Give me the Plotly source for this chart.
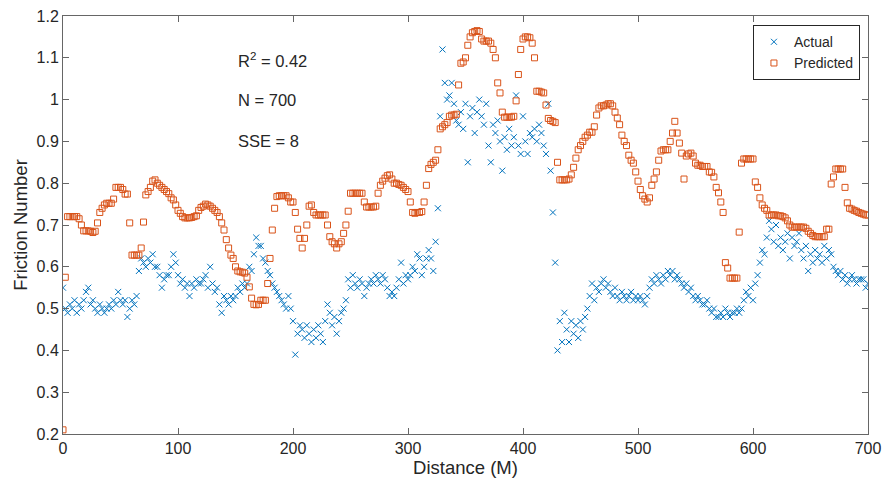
import plotly.graph_objects as go

distance = list(range(0, 701, 2))

predicted = [
    0.21, 0.575, 0.72, 0.72, 0.72, 0.72, 0.72, 0.715, 0.70, 0.686,
    0.686, 0.686, 0.685, 0.682, 0.685, 0.705, 0.73, 0.74, 0.748, 0.752,
    0.752, 0.752, 0.762, 0.79, 0.79, 0.79, 0.785, 0.774, 0.774, 0.705,
    0.628, 0.628, 0.628, 0.628, 0.645, 0.707, 0.772, 0.78, 0.79, 0.805,
    0.808, 0.80, 0.795, 0.79, 0.785, 0.78, 0.775, 0.765, 0.76, 0.748,
    0.735, 0.728, 0.72, 0.717, 0.717, 0.717, 0.718, 0.72, 0.722, 0.735,
    0.742, 0.745, 0.75, 0.748, 0.745, 0.74, 0.735, 0.73, 0.72, 0.705,
    0.688, 0.665, 0.645, 0.628, 0.62, 0.60, 0.59, 0.588, 0.587, 0.585,
    0.575, 0.552, 0.525, 0.51, 0.509, 0.51, 0.52, 0.52, 0.52, 0.56,
    0.62, 0.688, 0.74, 0.768, 0.77, 0.77, 0.77, 0.77, 0.765, 0.755,
    0.755, 0.73, 0.69, 0.668, 0.645, 0.668, 0.70, 0.745, 0.748, 0.73,
    0.724, 0.724, 0.724, 0.724, 0.724, 0.70, 0.672, 0.66, 0.655, 0.645,
    0.655, 0.66, 0.68, 0.70, 0.733, 0.776, 0.776, 0.776, 0.776, 0.776,
    0.776, 0.755, 0.743, 0.743, 0.743, 0.743, 0.745, 0.776, 0.795, 0.805,
    0.812, 0.818, 0.82, 0.81, 0.80, 0.80, 0.797, 0.795, 0.79, 0.785,
    0.78, 0.755, 0.73, 0.728, 0.73, 0.73, 0.732, 0.755, 0.795, 0.835,
    0.845, 0.85, 0.855, 0.88, 0.93, 0.935, 0.94, 0.945, 0.96, 0.963,
    0.963, 0.965, 1.035, 1.087, 1.09, 1.10, 1.13, 1.15, 1.16, 1.163,
    1.165, 1.163, 1.145, 1.14, 1.14, 1.14, 1.135, 1.12, 1.10, 1.04,
    1.016, 0.97, 0.958, 0.958, 0.958, 0.958, 0.96, 0.997, 1.06, 1.12,
    1.145, 1.15, 1.15, 1.148, 1.135, 1.10, 1.02, 1.02, 1.018, 1.016,
    0.987, 0.955, 0.95, 0.948, 0.945, 0.85, 0.808, 0.808, 0.808, 0.808,
    0.81, 0.82, 0.838, 0.86, 0.88, 0.89, 0.90, 0.91, 0.915, 0.922,
    0.922, 0.935, 0.963, 0.98, 0.985, 0.985, 0.987, 0.99, 0.99, 0.985,
    0.97, 0.956, 0.94, 0.915, 0.90, 0.89, 0.867, 0.855, 0.848, 0.827,
    0.805, 0.785, 0.77, 0.762, 0.755, 0.765, 0.795, 0.81, 0.827, 0.855,
    0.877, 0.88, 0.88, 0.88, 0.90, 0.92, 0.948, 0.92, 0.896, 0.872,
    0.81, 0.865, 0.87, 0.872, 0.865, 0.848, 0.843, 0.843, 0.84, 0.84,
    0.84, 0.827, 0.826, 0.815, 0.79, 0.777, 0.755, 0.73, 0.61, 0.597,
    0.573, 0.573, 0.573, 0.573, 0.683, 0.848, 0.858, 0.858, 0.858, 0.858,
    0.858, 0.803, 0.79, 0.765, 0.748, 0.74, 0.735, 0.724, 0.724, 0.724,
    0.724, 0.722, 0.722, 0.72, 0.717, 0.71, 0.70, 0.695, 0.695, 0.695,
    0.695, 0.695, 0.695, 0.692, 0.685, 0.68, 0.675, 0.672, 0.672, 0.672,
    0.672, 0.672, 0.69, 0.69, 0.798, 0.815, 0.834, 0.834, 0.834, 0.834,
    0.79, 0.753, 0.74, 0.738, 0.735, 0.733, 0.73, 0.728, 0.726, 0.724,
    0.724,
]

actual = [
    0.55, 0.50, 0.49, 0.51, 0.50, 0.52, 0.49, 0.51, 0.50, 0.52,
    0.54, 0.55, 0.51, 0.52, 0.50, 0.49, 0.51, 0.50, 0.49, 0.50,
    0.51, 0.50, 0.52, 0.51, 0.54, 0.52, 0.51, 0.52, 0.48, 0.50,
    0.52, 0.51, 0.53, 0.59, 0.62, 0.61, 0.60, 0.62, 0.61, 0.63,
    0.60, 0.60, 0.58, 0.55, 0.57, 0.58, 0.58, 0.60, 0.63, 0.61,
    0.58, 0.56, 0.57, 0.55, 0.56, 0.53, 0.56, 0.55, 0.57, 0.56,
    0.56, 0.57, 0.58, 0.55, 0.60, 0.56, 0.54, 0.55, 0.51, 0.49,
    0.53, 0.52, 0.51, 0.53, 0.52, 0.53, 0.55, 0.54, 0.56, 0.55,
    0.56, 0.60, 0.59, 0.63, 0.67, 0.65, 0.65, 0.62, 0.61, 0.59,
    0.58, 0.56, 0.55, 0.54, 0.53, 0.52, 0.51, 0.50, 0.53, 0.50,
    0.47, 0.39, 0.44, 0.46, 0.45, 0.43, 0.46, 0.44, 0.42, 0.45,
    0.43, 0.46, 0.44, 0.42, 0.47, 0.51, 0.49, 0.46, 0.48, 0.44,
    0.47, 0.49, 0.50, 0.52, 0.57, 0.55, 0.58, 0.56, 0.55, 0.57,
    0.56, 0.53, 0.55, 0.56, 0.57, 0.56, 0.58, 0.57, 0.56, 0.58,
    0.57, 0.55, 0.53, 0.54, 0.53, 0.55, 0.57, 0.61, 0.56, 0.58,
    0.57, 0.58, 0.60, 0.59, 0.63, 0.62, 0.58, 0.60, 0.62, 0.64,
    0.62, 0.59, 0.66, 0.74, 0.96, 1.12, 1.04, 1.00, 1.01, 1.04,
    0.99, 0.95, 0.94, 0.97, 0.93, 0.99, 0.85, 0.96, 0.98, 0.92,
    0.97, 1.00, 0.96, 0.94, 0.99, 0.89, 0.85, 0.94, 0.92, 0.95,
    0.90, 0.83, 0.91, 0.88, 0.93, 0.89, 0.91, 1.01, 0.89, 0.87,
    0.96, 0.90, 0.87, 0.92, 0.91, 0.93, 0.90, 0.94, 0.92, 0.89,
    0.87, 0.99, 0.83, 0.73, 0.61, 0.40, 0.47, 0.42, 0.49, 0.45,
    0.42, 0.47, 0.44, 0.46, 0.43, 0.47, 0.45, 0.48, 0.50, 0.53,
    0.56, 0.52, 0.55, 0.54, 0.56, 0.57, 0.55, 0.56, 0.54, 0.53,
    0.55, 0.53, 0.52, 0.54, 0.53, 0.52, 0.53, 0.54, 0.52, 0.53,
    0.52, 0.53, 0.52, 0.51, 0.53, 0.55, 0.57, 0.56, 0.58, 0.57,
    0.56, 0.58, 0.57, 0.59, 0.58, 0.59, 0.57, 0.58, 0.57, 0.56,
    0.55, 0.56, 0.54, 0.55, 0.53, 0.52, 0.53, 0.52, 0.51, 0.51,
    0.52, 0.50, 0.49, 0.50, 0.48, 0.48, 0.49, 0.48, 0.50, 0.49,
    0.48, 0.49, 0.49, 0.50, 0.49, 0.50, 0.52, 0.54, 0.53, 0.55,
    0.52, 0.56, 0.58, 0.61, 0.64, 0.63, 0.67, 0.71, 0.69, 0.66,
    0.70, 0.65, 0.67, 0.64, 0.66, 0.68, 0.62, 0.67, 0.65, 0.66,
    0.68, 0.64, 0.62, 0.65, 0.59, 0.63, 0.61, 0.64, 0.62, 0.63,
    0.61, 0.65, 0.62, 0.64, 0.63, 0.60, 0.59, 0.58, 0.59, 0.57,
    0.58, 0.56, 0.57, 0.58, 0.57, 0.56, 0.57, 0.57, 0.57, 0.55,
    0.56,
]

x_ticks = [0, 100, 200, 300, 400, 500, 600, 700]
y_ticks = [0.2, 0.3, 0.4, 0.5, 0.6, 0.7, 0.8, 0.9, 1.0, 1.1, 1.2]
y_tick_labels = ["0.2", "0.3", "0.4", "0.5", "0.6", "0.7", "0.8", "0.9", "1", "1.1", "1.2"]

stats_text = ["R<sup>2</sup> = 0.42", "N = 700", "SSE = 8"]
stats_y = [1.095, 1.0, 0.9]

BLUE = "#0072BD"
ORANGE = "#D95319"
AXC = "#666666"
TXT = "#262626"
FONT = "Liberation Sans, Arial, sans-serif"

fig = go.Figure()
fig.add_trace(go.Scatter(
    x=distance, y=actual, mode="markers", name="Actual",
    marker=dict(symbol="x-thin-open", size=6, color=BLUE,
                line=dict(color=BLUE, width=1)),
))
fig.add_trace(go.Scatter(
    x=distance, y=predicted, mode="markers", name="Predicted",
    marker=dict(symbol="square-open", size=6, color=ORANGE,
                line=dict(color=ORANGE, width=1)),
))

for t, yv in zip(stats_text, stats_y):
    fig.add_annotation(x=150, y=yv, text=t, showarrow=False,
                       xanchor="left", yanchor="middle",
                       font=dict(size=16.5, color=TXT, family=FONT))

axis_common = dict(
    showline=True, linecolor=AXC, linewidth=1, mirror="allticks",
    ticks="inside", ticklen=6, tickcolor=AXC, tickwidth=1,
    showgrid=False, zeroline=False, automargin=False,
    tickfont=dict(size=16, color=TXT, family=FONT),
)

fig.update_layout(
    width=883, height=485,
    margin=dict(l=63, r=15, t=16, b=51, autoexpand=False),
    paper_bgcolor="white", plot_bgcolor="white",
    font=dict(family=FONT, color=TXT),
    xaxis=dict(range=[0, 700], tickvals=x_ticks,
               title=dict(text="Distance (M)", font=dict(size=18.5, color=TXT, family=FONT), standoff=4),
               **axis_common),
    yaxis=dict(range=[0.2, 1.2], tickvals=y_ticks, ticktext=y_tick_labels,
               title=dict(text="Friction Number", font=dict(size=18.5, color=TXT, family=FONT), standoff=4),
               **axis_common),
    legend=dict(x=0.99, y=0.978, xanchor="right", yanchor="top",
                bgcolor="white", bordercolor=TXT, borderwidth=1,
                font=dict(size=14, color=TXT, family=FONT),
                itemwidth=30, tracegroupgap=0),
    showlegend=True,
)

fig.write_html("out.html")
